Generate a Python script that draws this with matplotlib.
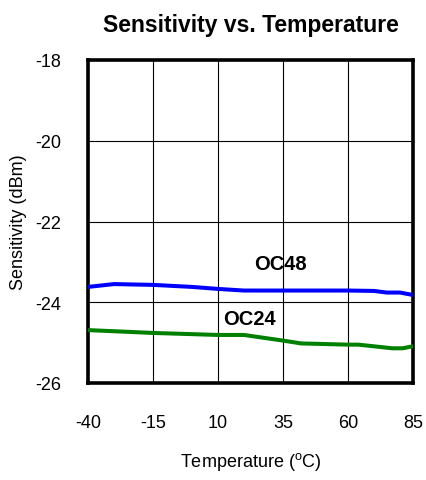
import matplotlib.pyplot as plt
from matplotlib.ticker import MultipleLocator

plt.rcParams["font.family"] = ["Liberation Sans", "DejaVu Sans"]
plt.rcParams["mathtext.fontset"] = "custom"
plt.rcParams["mathtext.rm"] = "Liberation Sans"
plt.rcParams["axes.unicode_minus"] = False

# sensitivity readings (dBm) against temperature (C)
temp_oc48 = [-40, -30, -15, 0, 10, 20, 35, 60, 70, 75, 80, 85]
sens_oc48 = [-23.62, -23.55, -23.57, -23.62, -23.67, -23.71, -23.71, -23.71, -23.72, -23.76, -23.76, -23.82]

temp_oc24 = [-40, -15, 10, 20, 35, 42, 60, 64, 77, 81, 85]
sens_oc24 = [-24.69, -24.76, -24.81, -24.81, -24.95, -25.02, -25.05, -25.05, -25.14, -25.14, -25.09]

xticks = [-40, -15, 10, 35, 60, 85]

fig = plt.figure(figsize=(4.26, 4.81), dpi=100)
ax = fig.add_axes([88 / 426, 1 - 384 / 481, 325 / 426, 323 / 481])

ax.plot(temp_oc48, sens_oc48, color="#0000ff", lw=2.9, zorder=3)
ax.plot(temp_oc24, sens_oc24, color="#008000", lw=2.9, zorder=3)

ax.text(34, -23.05, "OC48", fontsize=14.5, fontweight="bold", ha="center", va="center")
ax.text(22, -24.41, "OC24", fontsize=14.5, fontweight="bold", ha="center", va="center")

ax.set_xlim(-40, 85)
ax.set_ylim(-26, -18)
ax.set_xticks(xticks)
ax.yaxis.set_major_locator(MultipleLocator(2))
ax.grid(True, color="black", lw=0.8)
ax.tick_params(length=0, labelsize=13, pad=22)
ax.tick_params(axis="y", pad=19)
for s in ax.spines.values():
    s.set_linewidth(2.6)

ax.set_title("Sensitivity vs. Temperature", fontsize=16.5, fontweight="bold", pad=21)
ax.set_xlabel(r"Temperature ($^{\mathrm{o}}$C)", fontsize=13, labelpad=14)
ax.set_ylabel("Sensitivity (dBm)", fontsize=13, labelpad=6)

fig.savefig("out.png", dpi=100)
